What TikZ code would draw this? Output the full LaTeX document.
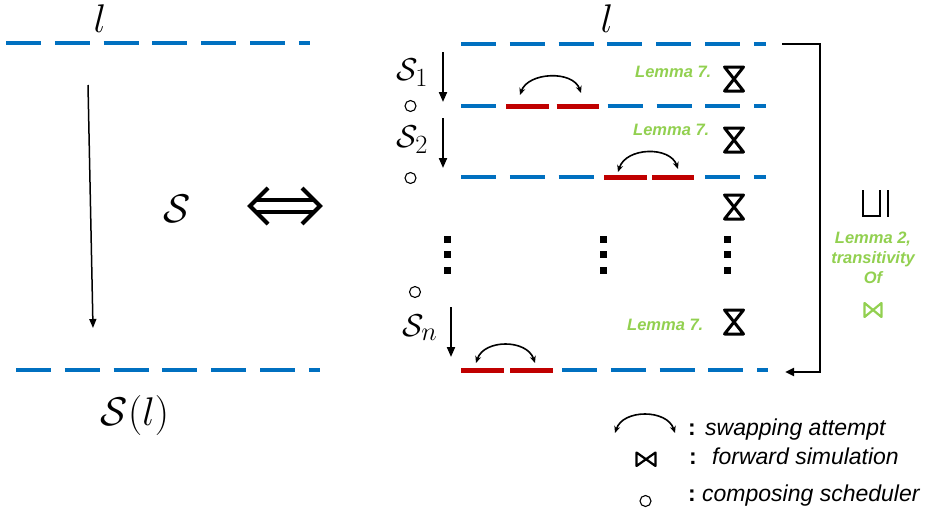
\documentclass[tikz,border=0pt]{standalone}
\usepackage{fontspec}
\newfontfamily\lemfont{Liberation Sans}
\usetikzlibrary{arrows.meta}
\definecolor{lineblue}{HTML}{0070C0}
\definecolor{swapred}{HTML}{C00000}
\definecolor{lemgreen}{HTML}{92D050}

\tikzset{
  blueline/.style={draw=lineblue, line width=4pt, dash pattern=on 35pt off 13.8pt},
  bluedash/.style={draw=lineblue, line width=4pt},
  reddash/.style={draw=swapred, line width=5pt},
  steparrow/.style={line width=2pt, -{Triangle[length=10pt,width=8pt]}},
  swaparc/.style={line width=1.6pt, {Stealth[length=7pt,width=6pt]}-{Stealth[length=7pt,width=6pt]}},
  hourglass/.style={line width=3pt, line join=round},
  bowtie/.style={line width=2.2pt, line join=round},
  lemma/.style={text=lemgreen, font=\lemfont\bfseries\itshape\fontsize{16.5}{20}\selectfont, inner sep=0pt},
  legendtxt/.style={font=\lemfont\itshape\fontsize{23}{27}\selectfont, inner sep=0pt, anchor=base west},
  colon/.style={font=\lemfont\bfseries\fontsize{23}{27}\selectfont, inner sep=0pt, anchor=base},
  comp/.style={circle, draw, line width=1.1pt, minimum size=11pt, inner sep=0pt},
  vdot/.style={fill, minimum size=7pt, inner sep=0pt},
  mathbig/.style={inner sep=0pt, font=\Huge, scale=1.608},
  mathmid/.style={inner sep=0pt, font=\Huge, scale=1.27, anchor=base west},
}

\begin{document}
\begin{tikzpicture}[x=1pt, y=-1pt]
\useasboundingbox (0,0) rectangle (931,522);

% ---------- left: a single scheduler S applied to l ----------
\draw[blueline] (6,43) -- (310,43);
\draw[blueline] (16,370) -- (320,370);
\node[mathbig, anchor=base] (ltop) at (100,32) {$l$};
\node[mathbig, anchor=base] (sched) at (177,222) {$\mathcal{S}$};
\node[mathbig, anchor=base] (slabel) at (135,425) {$\mathcal{S}(l)$};
\coordinate (la) at (88,85);
\coordinate (lb) at (93,328);
\draw[line width=1.5pt, -{Triangle[length=9pt,width=7pt]}] (la) -- (lb);

% ---------- equivalence arrow ----------
\draw[line width=4pt] (268,188) -- (250,206) -- (268,224);
\draw[line width=4pt] (302,188) -- (320,206) -- (302,224);
\draw[line width=4pt] (256,200) -- (314,200);
\draw[line width=4pt] (256,212) -- (314,212);

% ---------- right: composition S_1 o S_2 o ... o S_n ----------
\node[mathbig, anchor=base] (rtop) at (607,32) {$l$};
% level 0
\draw[blueline] (461,44) -- (766,44);
% level 1
\draw[bluedash] (461,106) -- (496,106);
\draw[reddash] (506,106) -- (548.5,106);
\draw[reddash] (556.5,106) -- (599,106);
\draw[blueline] (607.7,106) -- (766,106);
% level 2
\draw[blueline] (461,177) -- (594,177);
\draw[reddash] (604,177) -- (647,177);
\draw[reddash] (652,177) -- (694,177);
\draw[blueline] (705,177) -- (766,177);
% level n
\draw[reddash] (461,370) -- (504,370);
\draw[reddash] (510,370) -- (553,370);
\draw[blueline] (562,370) -- (768,370);

% swapping attempts
\draw[swaparc] (520,95) .. controls (528,72) and (573,70) .. (581,93);
\draw[swaparc] (618,172) .. controls (626,147) and (670,146) .. (678,169);
\draw[swaparc] (476,363) .. controls (484,339) and (527,339) .. (535,363);

% scheduler labels, steps and composition marks
\node[mathmid] (s1) at (396,80) {$\mathcal{S}_1$};
\node[mathmid] (s2) at (396,147) {$\mathcal{S}_2$};
\node[mathmid] (sn) at (402,336) {$\mathcal{S}_n$};
\coordinate (a1s) at (443,52);  \coordinate (a1e) at (443,102);
\coordinate (a2s) at (443,118); \coordinate (a2e) at (443,168);
\coordinate (ans) at (451,307); \coordinate (ane) at (451,357);
\draw[steparrow] (a1s) -- (a1e);
\draw[steparrow] (a2s) -- (a2e);
\draw[steparrow] (ans) -- (ane);
\node[comp] (c1) at (410.5,106) {};
\node[comp] (c2) at (410.5,178) {};
\node[comp] (c3) at (415,292) {};

% vertical ellipses
\foreach \xx/\nm in {447/a, 603/b, 727/c}{
  \node[vdot] (d\nm1) at (\xx,239) {};
  \node[vdot] (d\nm2) at (\xx,254.5) {};
  \node[vdot] (d\nm3) at (\xx,270) {};
}

% forward simulations
\foreach \yy in {79,140,207,322}{
  \draw[hourglass] (724.5,\yy-12) -- (743.5,\yy-12) -- (724.5,\yy+12) -- (743.5,\yy+12) -- cycle;
}
\node[lemma, anchor=base west] (lem1) at (635,77) {Lemma 7.};
\node[lemma, anchor=base west] (lem2) at (633,135) {Lemma 7.};
\node[lemma, anchor=base west] (lem3) at (627,330) {Lemma 7.};

% overall relation
\coordinate (bk1) at (782,44);
\coordinate (bk2) at (785,372);
\draw[line width=2.3pt, -{Triangle[length=9pt,width=8pt]}] (bk1) -- ++(38,0) |- (bk2);
\draw[line width=2.5pt] (863,190) -- (863,216) -- (880,216) -- (880,190);
\draw[line width=2.5pt] (888,190) -- (888,217);
\node[lemma, anchor=base] (lem4) at (873,243) {Lemma 2,};
\node[lemma, anchor=base] (lem5) at (873,263) {transitivity};
\node[lemma, anchor=base] (lem6) at (873,283) {Of};
\draw[bowtie, lemgreen] (864.5,303) -- (881.5,317) -- (881.5,303) -- (864.5,317) -- cycle;

% ---------- legend ----------
\draw[swaparc] (615,433) .. controls (623,409) and (667,409) .. (675,433);
\node[colon] (col1) at (692,435) {:};
\node[legendtxt] (t1) at (705,435) {swapping attempt};
\draw[bowtie] (636.5,452.5) -- (655.5,466) -- (655.5,452.5) -- (636.5,466) -- cycle;
\node[colon] (col2) at (693,464) {:};
\node[legendtxt] (t2) at (712,464) {forward simulation};
\node[comp] (cl) at (645.5,501) {};
\node[colon] (col3) at (692,501) {:};
\node[legendtxt] (t3) at (702,501) {composing scheduler};
\end{tikzpicture}
\end{document}
